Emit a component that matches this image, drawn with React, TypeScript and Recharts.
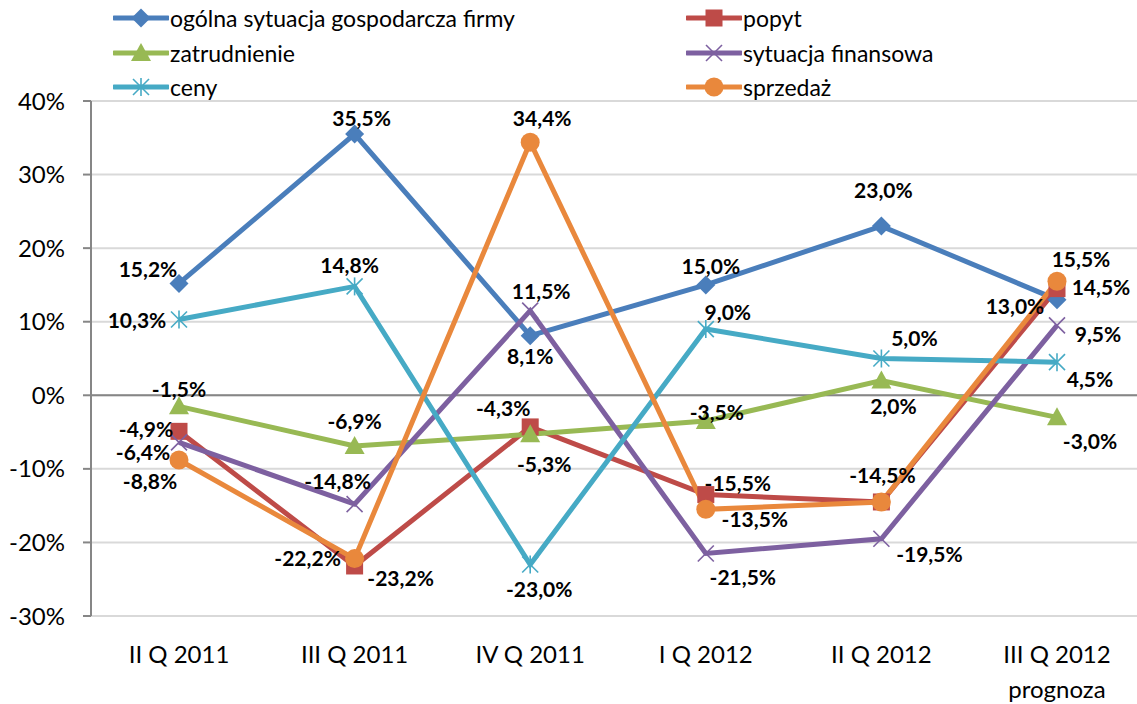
import React from 'react';
import { LineChart, Line, XAxis, YAxis, CartesianGrid, ReferenceLine, LabelList } from 'recharts';

const categories = ['II Q 2011', 'III Q 2011', 'IV Q 2011', 'I Q 2012', 'II Q 2012', 'III Q 2012\nprognoza'];

const ogolna = [15.2, 35.5, 8.1, 15.0, 23.0, 13.0];
const popyt = [-4.9, -23.2, -4.3, -13.5, -14.5, 14.5];
const zatrudnienie = [-1.5, -6.9, -5.3, -3.5, 2.0, -3.0];
const finansowa = [-6.4, -14.8, 11.5, -21.5, -19.5, 9.5];
const ceny = [10.3, 14.8, -23.0, 9.0, 5.0, 4.5];
const sprzedaz = [-8.8, -22.2, 34.4, -15.5, -14.5, 15.5];

const yTicks = [-30, -20, -10, 0, 10, 20, 30, 40];

type Shape = 'diamond' | 'square' | 'triangle' | 'x' | 'star' | 'circle';

// label offsets from the point (dx, dy); null = no label drawn
type Off = [number, number] | null;

const series: { key: string; name: string; values: number[]; color: string; shape: Shape; offsets: Off[] }[] = [
  { key: 'ogolna', name: 'ogólna sytuacja gospodarcza firmy', values: ogolna, color: '#4A7EBB', shape: 'diamond',
    offsets: [[-31, -15], [7, -17], [0, 20], [5, -19], [2, -37], [-42, 6]] },
  { key: 'popyt', name: 'popyt', values: popyt, color: '#BE4B48', shape: 'square',
    offsets: [[-33, -3], [46, 12], [-27, -19], [49, 24], [1, -27], [44, -2]] },
  { key: 'zatrudnienie', name: 'zatrudnienie', values: zatrudnienie, color: '#98B954', shape: 'triangle',
    offsets: [[0, -18], [0, -26], [14, 29], [11, -10], [12, 25], [33, 23]] },
  { key: 'finansowa', name: 'sytuacja finansowa', values: finansowa, color: '#7D60A0', shape: 'x',
    offsets: [[-36, 9], [-17, -24], [11, -20], [37, 23], [48, 15], [41, 8]] },
  { key: 'ceny', name: 'ceny', values: ceny, color: '#46AAC5', shape: 'star',
    offsets: [[-42, 0], [-5, -22], [9, 24], [22, -18], [33, -21], [33, 16]] },
  { key: 'sprzedaz', name: 'sprzedaż', values: sprzedaz, color: '#E9883C', shape: 'circle',
    offsets: [[-29, 20], [-47, -1], [12, -25], [32, -27], null, [24, -23]] },
];

const rows = categories.map((c, i) => {
  const r: Record<string, string | number> = { cat: c };
  series.forEach(s => { r[s.key] = s.values[i]; });
  return r;
});

const FONT = 'Lato, "Open Sans", sans-serif';

const Marker = ({ cx, cy, shape, color }: { cx: number; cy: number; shape: Shape; color: string }) => {
  switch (shape) {
    case 'diamond':
      return <polygon points={`${cx},${cy - 9.5} ${cx + 9.5},${cy} ${cx},${cy + 9.5} ${cx - 9.5},${cy}`} fill={color} />;
    case 'square':
      return <rect x={cx - 8.5} y={cy - 8.5} width={17} height={17} fill={color} />;
    case 'triangle':
      return <polygon points={`${cx},${cy - 10} ${cx + 10},${cy + 8} ${cx - 10},${cy + 8}`} fill={color} />;
    case 'x':
      return (
        <g stroke={color} strokeWidth={1.6}>
          <line x1={cx - 8} y1={cy - 8} x2={cx + 8} y2={cy + 8} />
          <line x1={cx - 8} y1={cy + 8} x2={cx + 8} y2={cy - 8} />
        </g>
      );
    case 'star':
      return (
        <g stroke={color} strokeWidth={1.6}>
          <line x1={cx - 8} y1={cy - 8} x2={cx + 8} y2={cy + 8} />
          <line x1={cx - 8} y1={cy + 8} x2={cx + 8} y2={cy - 8} />
          <line x1={cx} y1={cy - 9} x2={cx} y2={cy + 9} />
        </g>
      );
    default:
      return <circle cx={cx} cy={cy} r={9.5} fill={color} />;
  }
};

const fmt = (v: number) => v.toFixed(1).replace('.', ',') + '%';

const makeLabel = (offsets: Off[]) => (props: any) => {
  const { x, y, value, index } = props;
  const o = offsets[index];
  if (!o) return null;
  return (
    <text key={`l-${index}`} x={x + o[0]} y={y + o[1]} textAnchor="middle" dominantBaseline="central"
      fontFamily={FONT} fontWeight={700} fontSize={21} fill="#000">
      {fmt(value)}
    </text>
  );
};

const CatTick = (props: any) => {
  const { x, y, payload } = props;
  const lines = String(payload.value).split('\n');
  return (
    <text x={x} y={y} textAnchor="middle" fontFamily={FONT} fontSize={24} fill="#000">
      {lines.map((l, i) => (
        <tspan key={i} x={x} dy={i === 0 ? 39 : 35}>{l}</tspan>
      ))}
    </text>
  );
};

const legendSlots = [
  { x: 113, y: 18 }, { x: 686, y: 18 },
  { x: 113, y: 53 }, { x: 686, y: 53 },
  { x: 113, y: 87 }, { x: 686, y: 87 },
];

const App = () => (
  <div style={{ position: 'fixed', left: 0, top: 0, width: 1137, height: 704, overflow: 'hidden', background: '#fff' }}>
    {series.map((s, i) => (
      <div key={s.key} style={{ position: 'absolute', left: legendSlots[i].x, top: legendSlots[i].y - 15, height: 30, display: 'flex', alignItems: 'center' }}>
        <svg width={56} height={30}>
          <line x1={1} y1={15} x2={55} y2={15} stroke={s.color} strokeWidth={5} strokeLinecap="round" />
          <Marker cx={28} cy={15} shape={s.shape} color={s.color} />
        </svg>
        <span style={{ fontFamily: FONT, fontSize: 23, lineHeight: '30px', color: '#000', marginLeft: 1, whiteSpace: 'nowrap' }}>{s.name}</span>
      </div>
    ))}
    <div style={{ position: 'absolute', left: 0, top: 0 }}>
      <LineChart width={1145} height={704} data={rows} margin={{ top: 101, right: 0, left: 0, bottom: 0 }}>
        <CartesianGrid vertical={false} stroke="#D9D9D9" strokeWidth={2} />
        <XAxis dataKey="cat" axisLine={false} tickLine={false} height={88} interval={0}
          padding={{ left: 88, right: 88 }} tick={<CatTick />} />
        <YAxis domain={[-30, 40]} ticks={yTicks} width={91} interval={0}
          tickFormatter={(v: number) => `${v}%`} tickSize={8} tickMargin={18}
          axisLine={{ stroke: '#868686', strokeWidth: 2 }} tickLine={{ stroke: '#868686', strokeWidth: 2 }}
          tick={{ fontFamily: FONT, fontSize: 24, fill: '#000' }} />
        <ReferenceLine y={0} stroke="#868686" strokeWidth={2} />
        {series.map(s => (
          <Line key={s.key} dataKey={s.key} name={s.name} stroke={s.color} strokeWidth={5}
            isAnimationActive={false}
            dot={(p: any) => <Marker key={`${s.key}-${p.index}`} cx={p.cx} cy={p.cy} shape={s.shape} color={s.color} />}
            activeDot={false}>
            <LabelList dataKey={s.key} content={makeLabel(s.offsets)} />
          </Line>
        ))}
      </LineChart>
    </div>
  </div>
);

export default App;
